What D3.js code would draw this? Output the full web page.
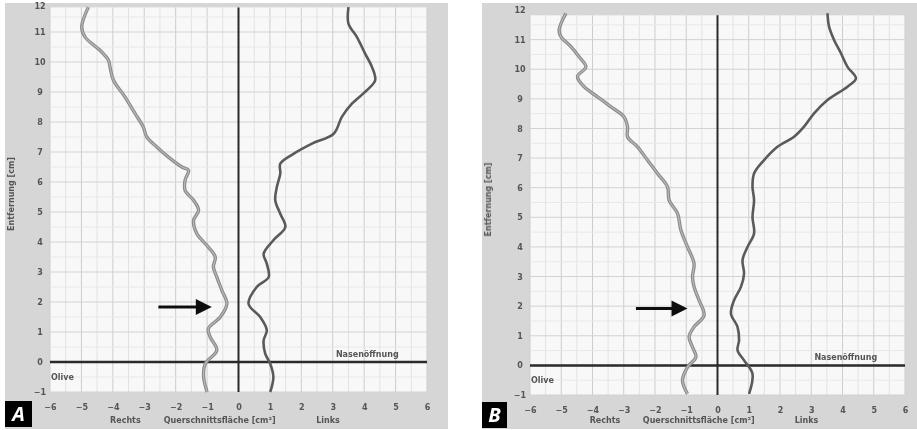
<!DOCTYPE html>
<html>
<head>
<meta charset="utf-8">
<title>Akustische Rhinometrie</title>
<script src="https://d3js.org/d3.v7.min.js"></script>
<style>
body { margin:0; background:#fff; }
.tick text { font-family:"DejaVu Sans", sans-serif; font-size:8px; fill:#555; font-weight:bold; }
</style>
</head>
<body>
<div id="chart"></div>
<script>

// tick values
var xTicks = [-6,-5,-4,-3,-2,-1,0,1,2,3,4,5,6];
var yTicks = [-1,0,1,2,3,4,5,6,7,8,9,10,11,12];

// panel A, right nostril (negative side)
var distA_R = [11.83,11.17,10.83,10.39,10.06,9.83,9.39,8.83,8.28,7.83,7.5,7.17,6.83,6.5,6.39,6.06,5.72,5.39,5.06,4.72,4.28,3.83,3.5,3.17,2.83,2.39,1.94,1.5,1.11,0.83,0.39,-0.06,-0.5,-1];
var areaA_R = [-4.78,-4.99,-4.88,-4.41,-4.14,-4.09,-3.98,-3.61,-3.29,-3.03,-2.92,-2.6,-2.23,-1.8,-1.59,-1.7,-1.7,-1.43,-1.27,-1.43,-1.33,-0.96,-0.74,-0.8,-0.69,-0.53,-0.37,-0.58,-0.96,-0.9,-0.69,-1.06,-1.11,-1.0];
// panel A, left nostril
var distA_L = [11.83,11.28,10.83,10.28,9.83,9.39,9.06,8.61,8.17,7.61,7.28,6.94,6.61,6.28,5.83,5.39,4.94,4.5,4.06,3.61,3.28,2.83,2.5,1.94,1.5,1.06,0.72,0.28,-0.06,-0.5,-1];
var areaA_L = [3.5,3.5,3.77,4.03,4.25,4.35,4.09,3.61,3.29,3.03,2.34,1.75,1.33,1.33,1.22,1.17,1.33,1.49,1.11,0.8,0.9,0.96,0.58,0.32,0.69,0.9,0.8,0.85,1.01,1.11,1.01];

// panel B, right nostril
var distB_R = [11.89,11.32,11.1,10.76,10.42,10.08,9.75,9.41,9.07,8.73,8.39,8.06,7.72,7.38,6.93,6.48,6.03,5.58,5.13,4.56,4.0,3.44,2.99,2.65,2.2,1.69,1.3,0.96,0.62,0.28,-0.06,-0.51,-0.96];
var areaB_R = [-4.85,-5.07,-5.01,-4.69,-4.43,-4.21,-4.48,-4.27,-3.84,-3.41,-2.99,-2.88,-2.88,-2.56,-2.24,-1.92,-1.6,-1.55,-1.28,-1.17,-0.96,-0.75,-0.8,-0.75,-0.59,-0.43,-0.75,-0.91,-0.8,-0.69,-0.96,-1.12,-0.96];
// panel B, left nostril
var distB_L = [11.89,11.44,10.99,10.54,10.08,9.69,9.41,8.96,8.51,8.06,7.72,7.38,6.93,6.48,6.03,5.58,5.01,4.45,4.0,3.55,3.1,2.65,2.2,1.75,1.3,0.85,0.51,0.17,-0.28,-0.96];
var areaB_L = [3.52,3.57,3.73,3.95,4.16,4.43,4.16,3.52,3.09,2.77,2.45,1.92,1.49,1.17,1.12,1.17,1.12,1.17,0.96,0.8,0.85,0.75,0.53,0.43,0.64,0.69,0.64,0.85,1.12,1.01];

// arrows [x from, x to, distance]
var arrowA = [-2.55,-0.85,1.83];
var arrowB = [-2.61,-0.96,1.92];

var W = 917, H = 430;
var svg = d3.select("#chart").append("svg")
  .attr("width", W).attr("height", H);

var defs = svg.append("defs");
defs.append("filter").attr("id","soft")
  .append("feGaussianBlur").attr("stdDeviation",0.45);

function drawPanel(p){
  var g = svg.append("g");

  // grey frame
  g.append("rect").attr("x",p.fx0).attr("y",p.fy0)
    .attr("width",p.fx1-p.fx0).attr("height",p.fy1-p.fy0)
    .attr("fill","#d6d6d6");

  var x = d3.scaleLinear().domain([-6,6]).range([p.x0,p.x1]);
  var y = d3.scaleLinear().domain([-1,12]).range([p.y0,p.y1]);

  var top = y(11.82);
  var inner = g.append("g").attr("filter","url(#soft)");
  inner.append("rect").attr("x",x(-6)).attr("y",top)
    .attr("width",x(6)-x(-6)).attr("height",y(-1)-top)
    .attr("fill","#f8f8f8");

  // grid
  var minor = d3.range(-6,6.01,0.5);
  inner.selectAll(".vg").data(minor).enter().append("line")
    .attr("x1",function(d){return x(d);}).attr("x2",function(d){return x(d);})
    .attr("y1",top).attr("y2",y(-1))
    .attr("stroke",function(d){return d%1===0 ? "#cdcdcd" : "#e2e2e2";})
    .attr("stroke-width",1);
  var hmin = d3.range(-1,11.8,0.5);
  inner.selectAll(".hg").data(hmin).enter().append("line")
    .attr("x1",x(-6)).attr("x2",x(6))
    .attr("y1",function(d){return y(d);}).attr("y2",function(d){return y(d);})
    .attr("stroke",function(d){return d%1===0 ? "#d2d2d2" : "#e8e8e8";})
    .attr("stroke-width",1);

  // axes lines
  inner.append("line").attr("x1",x(0)).attr("x2",x(0))
    .attr("y1",top).attr("y2",y(-1))
    .attr("stroke","#2a2a2a").attr("stroke-width",2);
  inner.append("line").attr("x1",x(-6)).attr("x2",x(6))
    .attr("y1",y(0)).attr("y2",y(0))
    .attr("stroke","#2a2a2a").attr("stroke-width",2.5);

  // curves
  var line = d3.line().curve(d3.curveCatmullRom)
    .x(function(d){return x(d[1]);}).y(function(d){return y(d[0]);});
  var right = d3.zip(p.dR, p.aR), left = d3.zip(p.dL, p.aL);
  inner.append("path").datum(right).attr("d",line)
    .attr("fill","none").attr("stroke","#8a8a8a").attr("stroke-width",3.4);
  inner.append("path").datum(right).attr("d",line)
    .attr("fill","none").attr("stroke","#b8b8b8").attr("stroke-width",1.2);
  inner.append("path").datum(left).attr("d",line)
    .attr("fill","none").attr("stroke","#5a5a5a").attr("stroke-width",2.6);

  // arrow
  var ax0 = x(p.arrow[0]), ax1 = x(p.arrow[1]), ay = y(p.arrow[2]);
  inner.append("line").attr("x1",ax0).attr("x2",ax1-14)
    .attr("y1",ay).attr("y2",ay).attr("stroke","#111").attr("stroke-width",3);
  inner.append("path")
    .attr("d","M"+(ax1-16)+","+(ay-8)+"L"+ax1+","+ay+"L"+(ax1-16)+","+(ay+8)+"Z")
    .attr("fill","#111");

  // small labels in the plot
  inner.append("text").attr("x",x(3.1)).attr("y",y(0)-5)
    .attr("font-family","DejaVu Sans").attr("font-size",8).attr("font-weight","bold")
    .attr("fill","#555").text(p.nose);
  inner.append("text").attr("x",x(-6)+1).attr("y",y(-0.5)+3)
    .attr("font-family","DejaVu Sans").attr("font-size",8).attr("font-weight","bold")
    .attr("fill","#555").text("Olive");

  // tick labels via axes
  var ya = g.append("g").attr("transform","translate("+(p.x0-10)+",0)")
    .attr("filter","url(#soft)")
    .call(d3.axisLeft(y).tickValues(yTicks).tickSize(0).tickPadding(0));
  ya.select(".domain").remove();
  ya.selectAll("text").attr("text-anchor","middle")
    .attr("dy",function(d){ return (y(d) < 6) ? "0.75em" : "0.32em"; });
  var xa = g.append("g").attr("transform","translate(0,"+(p.y0+12)+")")
    .attr("filter","url(#soft)")
    .call(d3.axisBottom(x).tickValues(xTicks).tickSize(0).tickPadding(0));
  xa.select(".domain").remove();

  // axis titles
  var tg = g.append("g").attr("filter","url(#soft)")
    .attr("font-family","DejaVu Sans").attr("font-size",8)
    .attr("font-weight","bold").attr("fill","#555");
  tg.append("text").attr("x",x(-3.6)).attr("y",p.fy1-6)
    .attr("text-anchor","middle").text("Rechts");
  tg.append("text").attr("x",x(-0.6)).attr("y",p.fy1-6)
    .attr("text-anchor","middle").text("Querschnittsfläche [cm²]");
  tg.append("text").attr("x",x(2.85)).attr("y",p.fy1-6)
    .attr("text-anchor","middle").text("Links");
  tg.append("text")
    .attr("transform","translate("+(p.fx0+9)+","+y(5.6)+") rotate(-90)")
    .attr("text-anchor","middle").text("Entfernung [cm]");

  // panel letter
  g.append("rect").attr("x",p.bx).attr("y",p.by)
    .attr("width",p.bw).attr("height",26).attr("fill","#000");
  g.append("text").attr("x",p.bx+p.bw/2).attr("y",p.by+20)
    .attr("text-anchor","middle").attr("font-family","Open Sans, sans-serif")
    .attr("font-size",20).attr("font-style","italic").attr("font-weight","bold")
    .attr("fill","#fff").text(p.letter);
}

drawPanel({fx0:5, fx1:448, fy0:3, fy1:429, x0:50, x1:427, y0:392, y1:2,
  dR:distA_R, aR:areaA_R, dL:distA_L, aL:areaA_L, arrow:arrowA,
  nose:"Nasenöffnung", letter:"A", bx:5, by:401, bw:27});
drawPanel({fx0:482, fx1:917, fy0:3, fy1:429, x0:530, x1:905, y0:395, y1:10,
  dR:distB_R, aR:areaB_R, dL:distB_L, aL:areaB_L, arrow:arrowB,
  nose:"Nasenöffnung", letter:"B", bx:482, by:402, bw:25});

</script>
</body>
</html>
